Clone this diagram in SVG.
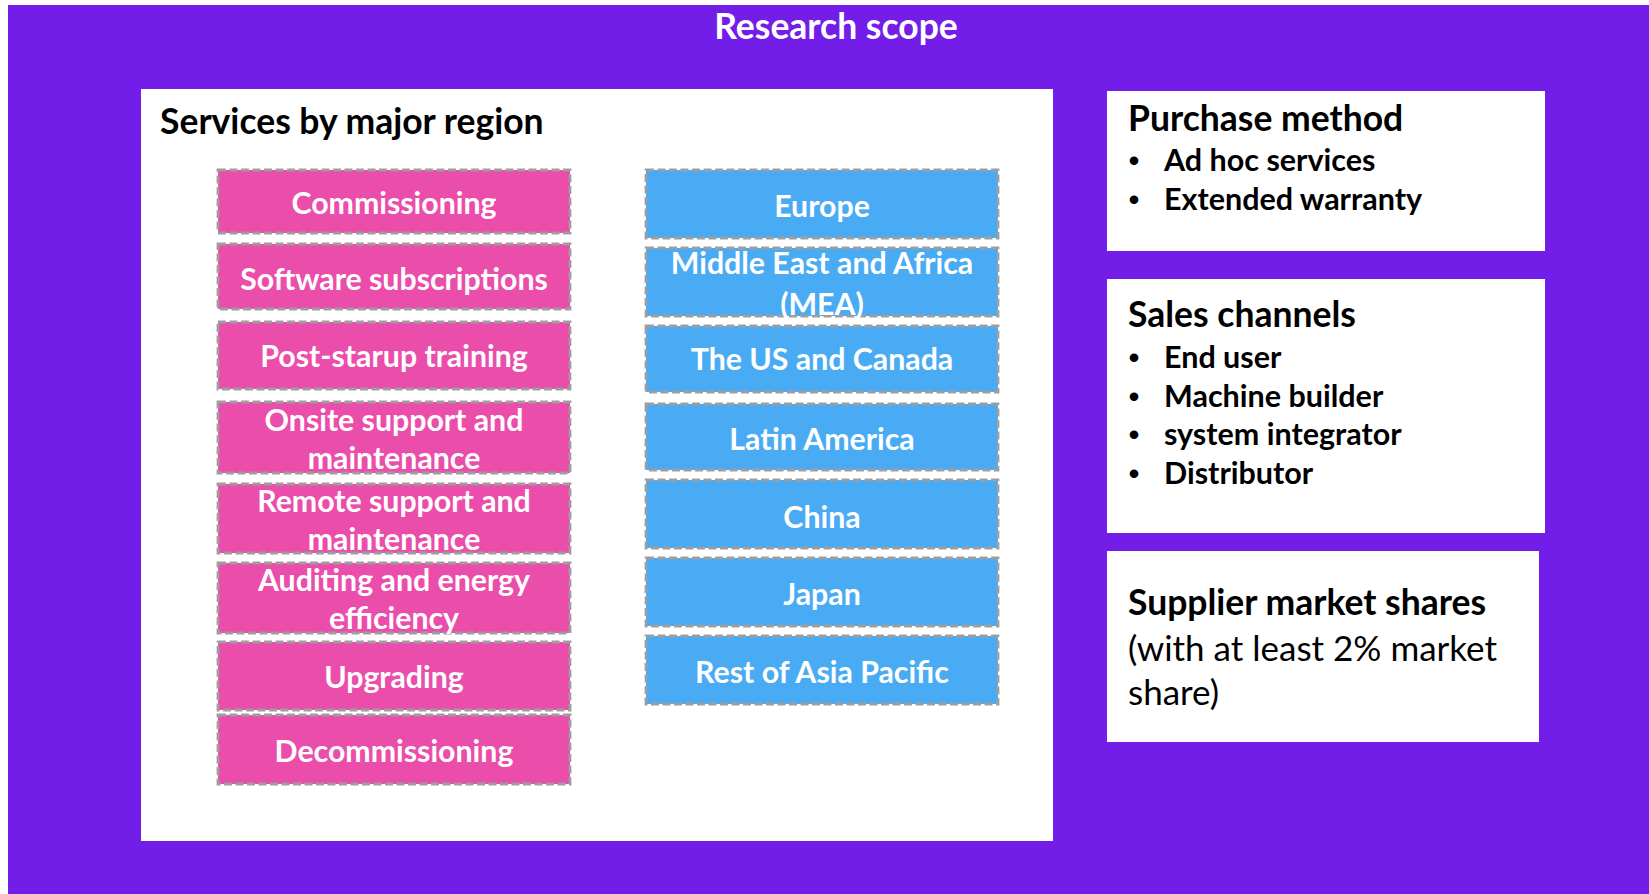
<svg xmlns="http://www.w3.org/2000/svg" width="1649" height="894" viewBox="0 0 1649 894">
<style>
.t{font-family:Lato,"Open Sans","Liberation Sans",sans-serif;}
.b{font-weight:bold;}
.w{fill:#ffffff;}
.k{fill:#000000;}
.panel{fill:#ffffff;}
.pink{fill:#EB4DAA;stroke:#9E9E9E;stroke-width:2.8;stroke-dasharray:8 3.5;}
.blue{fill:#4AABF5;stroke:#9E9E9E;stroke-width:2.8;stroke-dasharray:8 3.5;}
.lbl{font-family:Lato,"Open Sans","Liberation Sans",sans-serif;font-weight:bold;font-size:30.3px;fill:#ffffff;text-anchor:middle;}
.hd{font-family:Lato,"Open Sans","Liberation Sans",sans-serif;font-weight:bold;font-size:35.5px;fill:#000000;}
.it{font-family:Lato,"Open Sans","Liberation Sans",sans-serif;font-weight:bold;font-size:30.5px;fill:#000000;}
.bu{font-family:"Liberation Sans",sans-serif;font-size:30px;font-weight:bold;fill:#000000;text-anchor:middle;}
</style>
<rect x="0" y="0" width="1649" height="894" fill="#ffffff"/>
<rect x="8" y="5" width="1641" height="889" fill="#731DE8"/>
<g transform="translate(0,1.5)">
<text class="t b w" x="836" y="37" font-size="35.5" text-anchor="middle">Research scope</text>
</g>

<g id="services-panel">
<rect class="panel" x="141" y="89" width="912" height="752"/>
<text class="hd" x="160" y="133.5">Services by major region</text>
</g>

<g id="connectors"></g>

<g id="svc-commissioning"><rect class="pink" x="218" y="170" width="352" height="63"/><text class="lbl" x="394" y="213.5">Commissioning</text></g>
<g id="svc-software"><rect class="pink" x="218" y="244" width="352" height="65"/><text class="lbl" x="394" y="289.5">Software subscriptions</text></g>
<g id="svc-training"><rect class="pink" x="218" y="322" width="352" height="67"/><text class="lbl" x="394" y="366.5">Post-starup training</text></g>
<g id="svc-onsite"><rect class="pink" x="218" y="402" width="352" height="71"/><text class="lbl" x="394" y="430.5">Onsite support and</text><text class="lbl" x="394" y="468.5">maintenance</text></g>
<g id="svc-remote"><rect class="pink" x="218" y="484" width="352" height="69"/><text class="lbl" x="394" y="511.5">Remote support and</text><text class="lbl" x="394" y="549.5">maintenance</text></g>
<g id="svc-auditing"><rect class="pink" x="218" y="563" width="352" height="70"/><text class="lbl" x="394" y="590.5">Auditing and energy</text><text class="lbl" x="394" y="628.5">efficiency</text></g>
<g id="svc-upgrading"><rect class="pink" x="218" y="642" width="352" height="68"/><text class="lbl" x="394" y="687.5">Upgrading</text></g>
<g id="svc-decommissioning"><rect class="pink" x="218" y="715" width="352" height="69"/><text class="lbl" x="394" y="761.5">Decommissioning</text></g>

<g id="reg-europe"><rect class="blue" x="646" y="170" width="352" height="68"/><text class="lbl" x="822" y="216.5">Europe</text></g>
<g id="reg-mea"><rect class="blue" x="646" y="248" width="352" height="68"/><text class="lbl" x="822" y="273.5">Middle East and Africa</text><text class="lbl" x="822" y="314.5">(MEA)</text></g>
<g id="reg-us"><rect class="blue" x="646" y="326" width="352" height="66"/><text class="lbl" x="822" y="369.5">The US and Canada</text></g>
<g id="reg-latam"><rect class="blue" x="646" y="404" width="352" height="66"/><text class="lbl" x="822" y="449.5">Latin America</text></g>
<g id="reg-china"><rect class="blue" x="646" y="480" width="352" height="68"/><text class="lbl" x="822" y="527.5">China</text></g>
<g id="reg-japan"><rect class="blue" x="646" y="558" width="352" height="68"/><text class="lbl" x="822" y="604.5">Japan</text></g>
<g id="reg-rapac"><rect class="blue" x="646" y="636" width="352" height="68"/><text class="lbl" x="822" y="682.5">Rest of Asia Pacific</text></g>

<g id="purchase-method">
<rect class="panel" x="1107" y="91" width="438" height="160"/>
<text class="hd" x="1128" y="130.5">Purchase method</text>
<text class="bu" x="1134" y="170.5">•</text><text class="it" x="1164" y="170.5">Ad hoc services</text>
<text class="bu" x="1134" y="209.5">•</text><text class="it" x="1164" y="209.5">Extended warranty</text>
</g>

<g id="sales-channels">
<rect class="panel" x="1107" y="279" width="438" height="254"/>
<text class="hd" x="1128" y="326.5">Sales channels</text>
<text class="bu" x="1134" y="367.5">•</text><text class="it" x="1164" y="367.5">End user</text>
<text class="bu" x="1134" y="406.5">•</text><text class="it" x="1164" y="406.5">Machine builder</text>
<text class="bu" x="1134" y="444.5">•</text><text class="it" x="1164" y="444.5">system integrator</text>
<text class="bu" x="1134" y="483.5">•</text><text class="it" x="1164" y="483.5">Distributor</text>
</g>

<g id="supplier-shares">
<rect class="panel" x="1107" y="551" width="432" height="191"/>
<text class="hd" x="1128" y="614.5">Supplier market shares</text>
<text class="t k" x="1128" y="660.5" font-size="35">(with at least 2% market</text>
<text class="t k" x="1128" y="704.5" font-size="35">share)</text>
</g>
</svg>
